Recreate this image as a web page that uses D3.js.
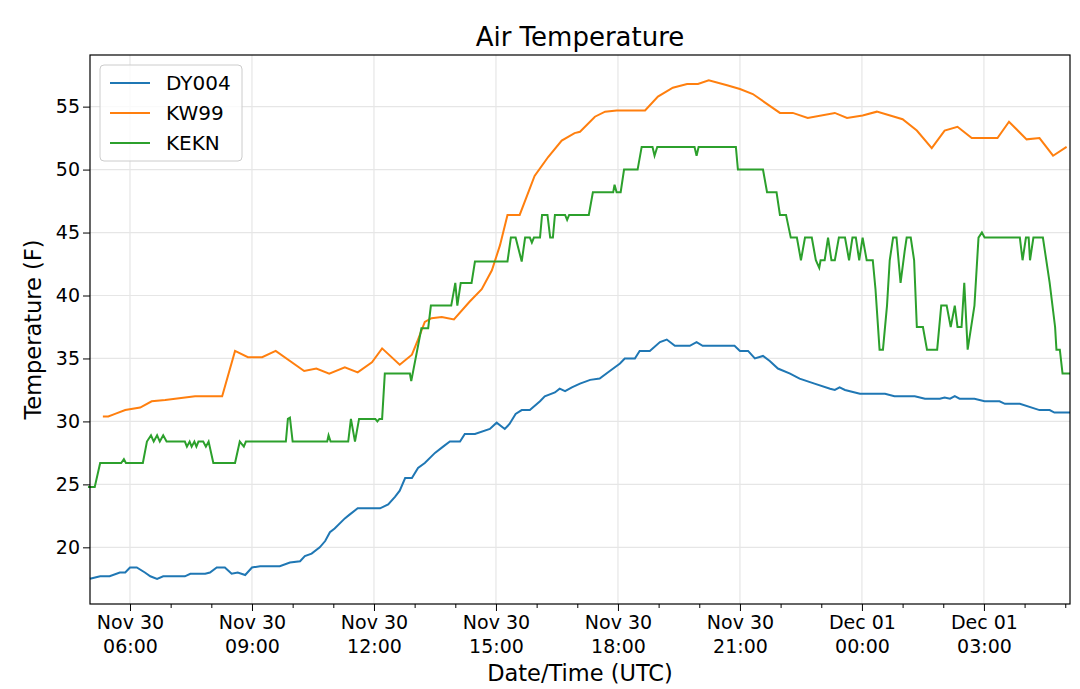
<!DOCTYPE html>
<html>
<head>
<meta charset="utf-8">
<script src="https://cdn.jsdelivr.net/npm/d3@7"></script>
<style>
  body { margin: 0; background: #fff; }
  text { font-family: "DejaVu Sans", sans-serif; }
</style>
</head>
<body>
<svg id="chart" width="1080" height="689"></svg>
<script>
// times are minutes after Nov 30 00:00 UTC
const dyTime = [301,316,330,345,353,360,370,382,390,400,409,441,449,471,478,488,500,510,519,530,540,552,581,596,611,618,628,640,648,655,662,677,684,696,729,741,751,758,766,776,785,795,810,822,832,847,854,869,891,901,913,920,929,938,950,965,972,987,994,1002,1012,1024,1039,1053,1068,1083,1090,1105,1112,1127,1142,1152,1164,1186,1196,1205,1252,1260,1272,1282,1294,1304,1316,1334,1348,1370,1393,1400,1407,1415,1437,1474,1488,1518,1533,1555,1562,1570,1577,1584,1606,1621,1643,1651,1673,1702,1717,1724,1747];
const dyTemp = [17.5,17.7,17.7,18.0,18.0,18.4,18.4,18.0,17.7,17.5,17.7,17.7,17.9,17.9,18.0,18.4,18.4,17.9,18.0,17.8,18.4,18.5,18.5,18.8,18.9,19.3,19.5,20.0,20.5,21.2,21.5,22.3,22.6,23.1,23.1,23.4,24.0,24.5,25.5,25.5,26.3,26.7,27.5,28.0,28.4,28.4,29.0,29.0,29.4,29.9,29.4,29.8,30.6,30.9,30.9,31.6,32.0,32.3,32.6,32.4,32.7,33.0,33.3,33.4,34.0,34.6,35.0,35.0,35.6,35.6,36.3,36.5,36.0,36.0,36.3,36.0,36.0,35.6,35.6,35.0,35.2,34.8,34.2,33.8,33.4,33.0,32.6,32.5,32.7,32.5,32.2,32.2,32.0,32.0,31.8,31.8,31.9,31.8,32.0,31.8,31.8,31.6,31.6,31.4,31.4,30.9,30.9,30.7,30.7];

const kwTime = [320,328,338,353,375,392,412,456,496,515,534,555,575,617,635,654,677,696,717,732,758,776,785,795,805,820,838,861,879,894,906,917,935,957,977,997,1016,1024,1046,1061,1078,1120,1139,1161,1182,1198,1214,1241,1260,1279,1319,1338,1360,1400,1418,1441,1462,1500,1521,1543,1562,1581,1602,1640,1657,1683,1702,1722,1742];
const kwTemp = [30.4,30.4,30.6,30.9,31.1,31.6,31.7,32.0,32.0,35.6,35.1,35.1,35.6,34.0,34.2,33.8,34.3,33.9,34.7,35.8,34.5,35.3,36.5,37.9,38.2,38.3,38.1,39.5,40.5,42.0,44.0,46.4,46.4,49.5,51.0,52.3,52.9,53.0,54.2,54.6,54.7,54.7,55.8,56.5,56.8,56.8,57.1,56.7,56.4,56.0,54.5,54.5,54.1,54.5,54.1,54.3,54.6,54.0,53.1,51.7,53.1,53.4,52.5,52.5,53.8,52.4,52.5,51.1,51.8];

const keTime = [298,308,316,347,351,354,379,385,391,395,400,404,409,414,441,444,448,451,455,458,461,468,472,476,483,515,522,528,531,590,593,596,600,651,653,656,682,686,692,698,722,725,728,732,736,773,775,790,800,804,834,840,843,848,864,869,894,917,922,929,938,943,950,953,956,965,968,976,980,984,987,1002,1005,1008,1037,1043,1073,1075,1078,1084,1089,1109,1115,1131,1134,1138,1193,1196,1199,1254,1257,1294,1300,1314,1319,1328,1335,1344,1350,1356,1366,1372,1377,1379,1385,1390,1395,1400,1406,1415,1421,1426,1431,1436,1441,1447,1456,1460,1466,1471,1477,1481,1486,1491,1497,1503,1506,1512,1517,1521,1530,1536,1551,1557,1565,1571,1577,1581,1587,1591,1596,1606,1612,1617,1621,1673,1677,1682,1686,1688,1693,1707,1717,1725,1727,1732,1736,1747];
const keTemp = [24.8,24.8,26.7,26.7,27.0,26.7,26.7,28.4,28.9,28.4,28.9,28.4,28.9,28.4,28.4,28.0,28.4,28.0,28.4,28.0,28.4,28.4,28.0,28.4,26.7,26.7,28.4,28.0,28.4,28.4,30.2,30.3,28.4,28.4,28.9,28.4,28.4,30.2,28.4,30.2,30.2,30.0,30.2,30.2,33.8,33.8,33.2,37.4,37.4,39.2,39.2,41.0,39.2,41.0,41.0,42.7,42.7,42.7,44.6,44.6,42.7,44.6,44.6,44.2,44.6,44.6,46.4,46.4,44.6,44.6,46.4,46.4,46.0,46.4,46.4,48.2,48.2,48.8,48.2,48.2,50.0,50.0,51.8,51.8,51.1,51.8,51.8,51.1,51.8,51.8,50.0,50.0,48.2,48.2,46.4,46.4,44.6,44.6,42.8,44.6,44.6,42.8,42.2,42.8,42.8,44.6,42.8,42.8,44.6,44.6,42.8,44.6,44.6,42.8,44.6,42.8,42.8,40.5,35.7,35.7,39.2,42.8,44.6,44.6,41.0,43.5,44.6,44.6,42.8,37.5,37.5,35.7,35.7,39.2,39.2,37.5,39.2,37.5,37.5,41.0,35.7,39.2,44.6,45.0,44.6,44.6,42.8,44.6,44.6,42.8,44.6,44.6,41.0,37.5,35.7,35.7,33.8,33.8];

const seriesNames = ['DY004', 'KW99', 'KEKN'];
const seriesColors = ['#1f77b4', '#ff7f0e', '#2ca02c'];
const yTicks = [20, 25, 30, 35, 40, 45, 50, 55];

const toDate = m => new Date(Date.UTC(2017, 10, 30) + m * 60000);
const series = [[dyTime, dyTemp], [kwTime, kwTemp], [keTime, keTemp]]
  .map(([t, v]) => t.map((m, i) => ({ date: toDate(m), value: v[i] })));

const svg = d3.select('#chart');
const margin = { top: 55, right: 10, bottom: 85, left: 90 };
const width = 1080 - margin.left - margin.right;
const height = 689 - margin.top - margin.bottom;

const x = d3.scaleUtc().domain([toDate(301), toDate(1747)]).range([0, width]);
const y = d3.scaleLinear().domain([15.5, 59.1]).range([height, 0]);

const g = svg.append('g').attr('transform', `translate(${margin.left},${margin.top})`);

const majorTicks = x.ticks(d3.utcHour.every(3));
const minorTicks = x.ticks(d3.utcHour.every(1));

// grid
g.selectAll('.gx').data(majorTicks).enter().append('line')
  .attr('x1', d => x(d)).attr('x2', d => x(d)).attr('y1', 0).attr('y2', height)
  .style('stroke', '#e6e6e6').style('stroke-width', 1.2);
g.selectAll('.gy').data(yTicks).enter().append('line')
  .attr('x1', 0).attr('x2', width).attr('y1', d => y(d)).attr('y2', d => y(d))
  .style('stroke', '#e6e6e6').style('stroke-width', 1.2);

const line = d3.line().x(d => x(d.date)).y(d => y(d.value));
series.forEach((s, i) => {
  g.append('path').datum(s).attr('d', line)
    .attr('fill', 'none').attr('stroke', seriesColors[i]).attr('stroke-width', 2);
});

// frame
g.append('rect').attr('width', width).attr('height', height)
  .attr('fill', 'none').attr('stroke', '#000').attr('stroke-width', 1.2);

// axes
const fmtDay = d3.utcFormat('%b %d'), fmtHour = d3.utcFormat('%H:%M');
const xAxis = g.append('g').attr('transform', `translate(0,${height})`)
  .call(d3.axisBottom(x).tickValues(majorTicks).tickSize(7).tickFormat(''));
xAxis.selectAll('.tick').each(function (d) {
  const t = d3.select(this).append('text').attr('fill', '#000')
    .attr('text-anchor', 'middle').style('font-size', '19px');
  t.append('tspan').attr('x', 0).attr('y', 25).text(fmtDay(d));
  t.append('tspan').attr('x', 0).attr('y', 49).text(fmtHour(d));
});
g.append('g').attr('transform', `translate(0,${height})`)
  .call(d3.axisBottom(x).tickValues(minorTicks.filter(d => d.getUTCHours() % 3)).tickSize(4).tickFormat(''));
const yAxis = g.append('g').call(d3.axisLeft(y).tickValues(yTicks).tickSize(7));
yAxis.selectAll('text').style('font-size', '19px').attr('fill', '#000');
g.selectAll('.domain').remove();
g.selectAll('.tick line').attr('stroke', '#000');

// labels
svg.append('text').attr('x', margin.left + width / 2).attr('y', 46)
  .attr('text-anchor', 'middle').style('font-size', '26px').text('Air Temperature');
svg.append('text').attr('x', margin.left + width / 2).attr('y', 681)
  .attr('text-anchor', 'middle').style('font-size', '22.5px').text('Date/Time (UTC)');
svg.append('text').attr('transform', `translate(41,${margin.top + height / 2}) rotate(-90)`)
  .attr('text-anchor', 'middle').style('font-size', '22.5px').text('Temperature (F)');

// legend
const lg = g.append('g').attr('transform', 'translate(10,10)');
lg.append('rect').attr('width', 142).attr('height', 96).attr('rx', 4)
  .attr('fill', '#fff').attr('fill-opacity', 0.8).attr('stroke', '#ccc');
seriesNames.forEach((n, i) => {
  const yy = 18 + i * 30;
  lg.append('line').attr('x1', 10).attr('x2', 50).attr('y1', yy).attr('y2', yy)
    .attr('stroke', seriesColors[i]).attr('stroke-width', 2);
  lg.append('text').attr('x', 66).attr('y', yy + 7).style('font-size', '20px').text(n);
});
</script>
</body>
</html>
